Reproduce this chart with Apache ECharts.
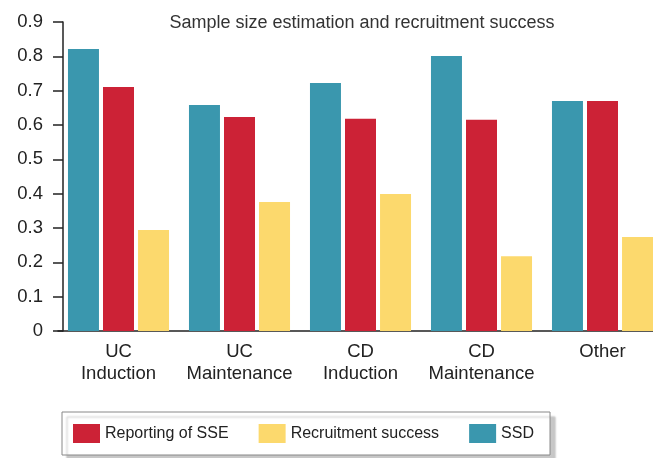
<!DOCTYPE html>
<html><head><meta charset="utf-8">
<script src="https://cdn.jsdelivr.net/npm/echarts@6/dist/echarts.min.js"></script>
<style>html,body{margin:0;padding:0;background:#fff;overflow:hidden}#c{width:663px;height:458px}</style>
</head><body><div id="c"></div>
<script>
const categories = ["UC\nInduction", "UC\nMaintenance", "CD\nInduction", "CD\nMaintenance", "Other"];
const ssd = [0.821, 0.658, 0.722, 0.801, 0.670];
const reportingSSE = [0.711, 0.623, 0.618, 0.615, 0.670];
const recruitment = [0.294, 0.376, 0.399, 0.218, 0.274];
const yTicks = [0, 0.1, 0.2, 0.3, 0.4, 0.5, 0.6, 0.7, 0.8, 0.9];

const font = "'Liberation Sans', Arial, sans-serif";
const chart = echarts.init(document.getElementById('c'), null, {renderer: 'canvas'});
chart.setOption({
  animation: false,
  textStyle: {fontFamily: font},
  title: {
    text: "Sample size estimation and recruitment success",
    left: 357, top: 9, textAlign: 'center',
    textStyle: {fontFamily: font, fontSize: 18, fontWeight: 'normal', color: '#333'}
  },
  legend: {
    left: 62, top: 412,
    data: ["Reporting of SSE", "Recruitment success", "SSD"],
    itemWidth: 27, itemHeight: 19, itemGap: 30,
    padding: [12, 16, 12, 11],
    backgroundColor: '#fff', borderColor: '#888', borderWidth: 1,
    shadowColor: 'rgba(0,0,0,0.22)', shadowBlur: 2, shadowOffsetX: 5, shadowOffsetY: 5,
    icon: 'rect',
    textStyle: {fontFamily: font, fontSize: 16, color: '#222'}
  },
  grid: {left: 58, top: 22, right: 0, bottom: 127, containLabel: false},
  xAxis: {
    type: 'category', data: categories,
    axisLine: {show: true, lineStyle: {color: '#222', width: 1.5}},
    axisTick: {show: false},
    axisLabel: {fontFamily: font, fontSize: 18.5, color: '#222', lineHeight: 22, margin: 10, interval: 0}
  },
  yAxis: {
    type: 'value', min: 0, max: 0.9, interval: 0.1, offset: -5,
    axisLine: {show: true, lineStyle: {color: '#222', width: 1.5}},
    axisTick: {show: true, length: 10, lineStyle: {color: '#222', width: 1.5}},
    splitLine: {show: false},
    axisLabel: {fontFamily: font, fontSize: 18.5, color: '#222', margin: 20,
      formatter: v => { const t = yTicks.find(x => Math.abs(x - v) < 1e-6); return t === undefined ? '' : String(t); }}
  },
  series: [
    {name: "SSD", type: 'bar', data: ssd, barWidth: 31, barGap: '13%', itemStyle: {color: '#3a97ae'}},
    {name: "Reporting of SSE", type: 'bar', data: reportingSSE, barWidth: 31, barGap: '13%', itemStyle: {color: '#cc2236'}},
    {name: "Recruitment success", type: 'bar', data: recruitment, barWidth: 31, barGap: '13%', itemStyle: {color: '#fcd96d'}}
  ]
});
</script></body></html>
